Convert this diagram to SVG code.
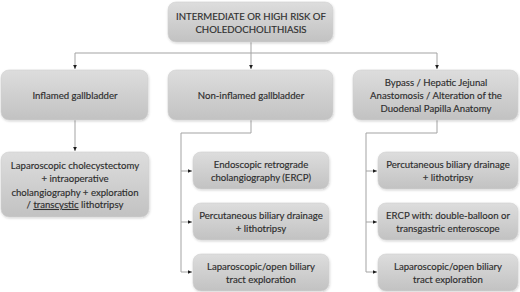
<svg xmlns="http://www.w3.org/2000/svg" width="520" height="292" viewBox="0 0 520 292">
<style>
.box{fill:url(#g);stroke:#d2d2d2;stroke-width:0.6;filter:url(#sh)}
.t{font-family:Lato,"Liberation Sans",sans-serif;font-size:9.6px;fill:#2e2e2e;stroke:#2e2e2e;stroke-width:0.15;text-anchor:middle}
.c{fill:none;stroke:#a3a3a3;stroke-width:1}
</style>
<defs>
<linearGradient id="g" x1="0" y1="0" x2="0" y2="1">
<stop offset="0" stop-color="#dddddd"/>
<stop offset="1" stop-color="#c2c2c2"/>
</linearGradient>
<filter id="sh" x="-10%" y="-10%" width="120%" height="130%">
<feDropShadow dx="0.5" dy="1" stdDeviation="0.8" flood-color="#000" flood-opacity="0.18"/>
</filter>
<marker id="a" markerUnits="userSpaceOnUse" markerWidth="5" markerHeight="5" refX="4.5" refY="2.5" orient="auto">
<path d="M0,0.4 L4.5,2.5 L0,4.6 z" fill="#1e1e1e"/>
</marker>
</defs>
<g id="connectors">
<path class="c" d="M251,42 V69" marker-end="url(#a)"/>
<path class="c" d="M75,53 H437"/>
<path class="c" d="M75,53 V69" marker-end="url(#a)"/>
<path class="c" d="M437,53 V69" marker-end="url(#a)"/>
<path class="c" d="M75,120 V151" marker-end="url(#a)"/>
<path class="c" d="M251,120 V133 H181 V272 H192" marker-end="url(#a)"/>
<path class="c" d="M181,171 H192" marker-end="url(#a)"/>
<path class="c" d="M181,222 H192" marker-end="url(#a)"/>
<path class="c" d="M437,120 V133 H366 V272 H377" marker-end="url(#a)"/>
<path class="c" d="M366,171 H377" marker-end="url(#a)"/>
<path class="c" d="M366,222 H377" marker-end="url(#a)"/>
</g>
<g id="top">
<rect class="box" x="168" y="2" width="165" height="40" rx="8"/>
<text class="t" x="251" y="19.5">INTERMEDIATE OR HIGH RISK OF</text>
<text class="t" x="251" y="33">CHOLEDOCHOLITHIASIS</text>
</g>
<g id="inflamed">
<rect class="box" x="1" y="70" width="147" height="50" rx="8"/>
<text class="t" x="75" y="98.5">Inflamed gallbladder</text>
</g>
<g id="noninflamed">
<rect class="box" x="168" y="70" width="165" height="50" rx="8"/>
<text class="t" x="251" y="98.5">Non-inflamed gallbladder</text>
</g>
<g id="bypass">
<rect class="box" x="353" y="70" width="165" height="50" rx="8"/>
<text class="t" x="436" y="85.5">Bypass / Hepatic Jejunal</text>
<text class="t" x="436" y="98.5">Anastomosis / Alteration of the</text>
<text class="t" x="436" y="111.5">Duodenal Papilla Anatomy</text>
</g>
<g id="lapchole">
<rect class="box" x="1" y="152" width="148" height="65" rx="8"/>
<text class="t" x="75" y="169">Laparoscopic cholecystectomy</text>
<text class="t" x="75" y="182">+ intraoperative</text>
<text class="t" x="75" y="195.5">cholangiography + exploration</text>
<text class="t" x="75" y="208">/ <tspan text-decoration="underline">transcystic</tspan> lithotripsy</text>
</g>
<g id="ercp">
<rect class="box" x="193" y="152" width="136" height="37" rx="8"/>
<text class="t" x="261" y="168">Endoscopic retrograde</text>
<text class="t" x="261" y="181">cholangiography (ERCP)</text>
</g>
<g id="perc1">
<rect class="box" x="193" y="203" width="136" height="37" rx="8"/>
<text class="t" x="261" y="219">Percutaneous biliary drainage</text>
<text class="t" x="261" y="232">+ lithotripsy</text>
</g>
<g id="lap1">
<rect class="box" x="193" y="254" width="136" height="37" rx="8"/>
<text class="t" x="261" y="270">Laparoscopic/open biliary</text>
<text class="t" x="261" y="283">tract exploration</text>
</g>
<g id="perc2">
<rect class="box" x="378" y="152" width="140" height="37" rx="8"/>
<text class="t" x="448" y="168">Percutaneous biliary drainage</text>
<text class="t" x="448" y="181">+ lithotripsy</text>
</g>
<g id="ercp2">
<rect class="box" x="378" y="203" width="140" height="37" rx="8"/>
<text class="t" x="448" y="219">ERCP with: double-balloon or</text>
<text class="t" x="448" y="232">transgastric enteroscope</text>
</g>
<g id="lap2">
<rect class="box" x="378" y="254" width="140" height="37" rx="8"/>
<text class="t" x="448" y="270">Laparoscopic/open biliary</text>
<text class="t" x="448" y="283">tract exploration</text>
</g>
</svg>
